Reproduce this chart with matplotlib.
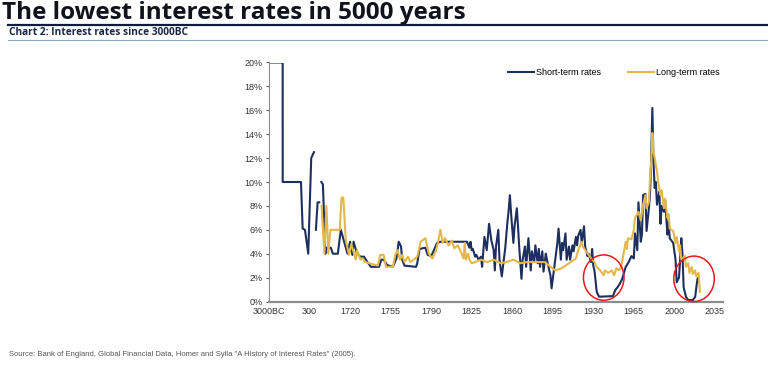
import numpy as np
import matplotlib
matplotlib.use("Agg")
import matplotlib.pyplot as plt
from matplotlib.patches import Ellipse

# Axis ticks (category-style axis: compressed before 1720)
tick_years = [-3000, 300, 1720, 1755, 1790, 1825, 1860, 1895, 1930, 1965, 2000, 2035]
tick_labels = ["3000BC", "300", "1720", "1755", "1790", "1825", "1860", "1895",
               "1930", "1965", "2000", "2035"]
y_ticks = [0, 2, 4, 6, 8, 10, 12, 14, 16, 18, 20]

# Short-term rates (%), NaN marks gaps in the record
short_years = [-3000, -1886, -1885, -398, -260, -73, 195, 359, 454, 490, 523, 583, 639, 680,
               715, 768, 855, 907, 1047, 1117, 1291, 1396, 1511, 1630,
               1720, 1722, 1723, 1726, 1729, 1732, 1735, 1738, 1745, 1747, 1749, 1752, 1757,
               1760, 1762, 1764, 1765, 1767, 1777, 1778, 1780, 1785, 1787, 1790, 1792, 1795,
               1798, 1820, 1821, 1823, 1824, 1825, 1826, 1828, 1829, 1831, 1833, 1834, 1836,
               1838, 1840, 1842, 1844, 1845, 1846, 1848, 1849, 1851, 1852, 1854, 1856, 1857,
               1858, 1859, 1861, 1862, 1864, 1865, 1866, 1868, 1869, 1871, 1872, 1874, 1876,
               1877, 1879, 1880, 1882, 1883, 1884, 1886, 1887, 1889, 1890, 1892, 1893, 1894,
               1896, 1897, 1899, 1900, 1902, 1903, 1904, 1906, 1907, 1909, 1910, 1912, 1913,
               1915, 1916, 1917, 1919, 1920, 1922, 1923, 1925, 1926, 1928, 1929, 1930, 1931,
               1933, 1935, 1947, 1949, 1951, 1953, 1955, 1958, 1960, 1963, 1965, 1966, 1968,
               1969, 1971, 1972, 1973, 1975, 1976, 1978, 1979, 1980, 1981, 1982, 1983, 1984,
               1985, 1987, 1988, 1989, 1991, 1992, 1994, 1995, 1996, 1999, 2001, 2002, 2004,
               2005, 2006, 2007, 2008, 2010, 2012, 2016, 2018, 2019, 2020, 2021]
short_rates = [20, 20, 10, 10, 6.1, 6.0, 4.0, 12.0, 12.5, np.nan, 6.0, 8.3, 8.3, np.nan,
               10.0, 9.8, 4.0, 4.5, 4.5, 4.0, 4.0, 6.0, 5.0, 4.0,
               5.0, 3.9, 5.0, 4.0, 3.75, 3.75, 3.3, 2.9, 2.9, 3.5, 3.5, 3.05, 2.9,
               3.6, 5.0, 4.6, 3.5, 3.0, 2.9, 3.2, 4.4, 4.5, 3.9, 3.8, 4.2, 4.9,
               5.0, 5.0, 5.0, 4.5, 5.0, 4.3, 4.4, 3.75, 3.9, 3.5, 3.75, 2.9, 5.4,
               4.3, 6.5, 5.1, 4.3, 2.6, 4.6, 6.0, 3.5, 2.1, 2.9, 4.5, 6.8, 7.7,
               8.9, 7.4, 4.9, 6.3, 7.8, 6.3, 4.6, 1.9, 3.5, 4.6, 2.9, 5.3, 2.6,
               4.2, 3.3, 4.7, 3.2, 4.4, 2.9, 4.2, 2.5, 4.0, 3.5, 2.6, 2.2, 1.1,
               2.6, 3.3, 4.9, 6.1, 3.5, 4.9, 4.3, 5.7, 3.5, 4.6, 3.5, 4.7, 4.2,
               5.4, 4.7, 5.5, 6.0, 4.9, 6.3, 4.6, 3.8, 4.0, 3.3, 4.4, 3.0, 2.6,
               0.8, 0.4, 0.45, 0.96, 1.2, 1.5, 1.9, 2.9, 3.2, 3.8, 3.6, 5.7, 4.3,
               8.3, 5.0, 5.6, 8.9, 9.0, 5.9, 7.8, 9.0, 12.0, 16.2, 11.7, 9.5, 10.0,
               8.1, 9.2, 6.5, 8.0, 7.5, 8.5, 5.6, 6.7, 5.3, 4.9, 3.5, 1.6, 2.0,
               3.5, 5.3, 4.0, 1.2, 0.4, 0.12, 0.12, 0.4, 1.2, 1.9, 2.0]

# Long-term rates (%)
long_years = [722, 820, 890, 960, 1029, 1361, 1420, 1483, 1535, 1570, 1685,
              1721, 1725, 1726, 1729, 1731, 1733, 1744, 1746, 1749, 1751, 1757, 1759, 1761,
              1763, 1765, 1767, 1770, 1772, 1775, 1778, 1781, 1785, 1788, 1791, 1794, 1796,
              1798, 1800, 1802, 1805, 1808, 1810, 1813, 1815, 1818, 1819, 1820, 1822, 1823,
              1825, 1828, 1833, 1838, 1844, 1850, 1855, 1861, 1867, 1873, 1880, 1888, 1892,
              1897, 1903, 1909, 1915, 1917, 1920, 1921, 1923, 1926, 1929, 1931, 1933, 1936,
              1939, 1940, 1943, 1946, 1948, 1950, 1952, 1954, 1956, 1958, 1959, 1960, 1963,
              1965, 1966, 1969, 1971, 1973, 1975, 1976, 1978, 1979, 1980, 1981, 1982, 1983,
              1985, 1986, 1988, 1989, 1991, 1992, 1994, 1995, 1996, 1999, 2000, 2001, 2002,
              2004, 2005, 2006, 2009, 2010, 2012, 2013, 2015, 2016, 2018, 2019, 2021, 2022]
long_rates = [8.0, 4.0, 8.0, 4.0, 6.0, 6.0, 8.7, 8.7, 6.5, 5.1, 3.9,
              4.8, 3.5, 4.3, 3.5, 3.6, 3.3, 3.0, 3.9, 3.9, 2.9, 2.9, 3.9, 4.3,
              3.5, 3.9, 3.3, 3.75, 3.3, 3.5, 3.75, 5.0, 5.3, 4.0, 3.6, 4.2, 5.0,
              6.0, 4.9, 5.3, 4.7, 5.1, 4.45, 4.7, 4.3, 3.6, 4.9, 3.5, 4.0, 3.5,
              3.2, 3.3, 3.5, 3.3, 3.5, 3.2, 3.3, 3.5, 3.2, 3.3, 3.3, 3.3, 3.0,
              2.6, 2.8, 3.2, 3.6, 4.3, 5.0, 4.6, 4.3, 3.9, 3.5, 3.3, 2.9, 2.6,
              2.2, 2.6, 2.4, 2.6, 2.2, 2.8, 2.6, 2.9, 3.9, 5.0, 4.4, 5.3, 5.2,
              6.0, 7.0, 7.5, 6.8, 8.1, 8.9, 7.8, 8.3, 10.3, 11.7, 14.1, 12.5, 12.0,
              10.9, 10.0, 8.9, 9.3, 7.8, 8.6, 7.0, 7.3, 6.1, 5.9, 5.4, 4.9, 5.4,
              4.2, 4.7, 3.5, 3.8, 2.9, 3.2, 2.4, 2.9, 2.3, 2.6, 2.1, 2.4, 0.8]

# periods highlighted with red circles: (centre year, centre rate)
highlights = [(1939, 2.0), (2017, 1.9)]


def to_pos(years):
    return np.interp(years, tick_years[:3] + [2035], [0, 1, 2, 11])


navy = "#1c2f5e"
gold = "#e3b848"

plt.rcParams["font.family"] = ["Liberation Sans", "DejaVu Sans"]

fig = plt.figure(figsize=(7.68, 3.79), dpi=100)
ax = fig.add_axes([269 / 768, 77.5 / 379, 454 / 768, 239 / 379])

ax.plot(to_pos(short_years), short_rates, color=navy, lw=1.5, label="Short-term rates")
ax.plot(to_pos(long_years), long_rates, color=gold, lw=1.5, label="Long-term rates")

for yr, rt in highlights:
    ax.add_patch(Ellipse((to_pos(yr), rt), 1.0, 3.8, fill=False, edgecolor="#e8191e",
                         lw=1.1, clip_on=False, zorder=5))

ax.set_xlim(0, 11.2)
ax.set_ylim(0, 20)
ax.set_xticks(range(len(tick_labels)))
ax.set_xticklabels(tick_labels)
ax.set_yticks(y_ticks)
ax.set_yticklabels([f"{v}%" for v in y_ticks])
ax.tick_params(axis="both", labelsize=6.5, colors="#333333", length=2.5, width=0.6,
               pad=2)
ax.tick_params(axis="x", length=0, pad=4)
for s in ["top", "right"]:
    ax.spines[s].set_visible(False)
ax.spines["left"].set_color("#8c8c8c")
ax.spines["left"].set_linewidth(0.8)
ax.spines["bottom"].set_color("#8c8c8c")
ax.spines["bottom"].set_linewidth(1.6)

ax.legend(loc="upper right", bbox_to_anchor=(728 / 768, 1 - 60 / 379),
          bbox_transform=fig.transFigure, ncol=2, frameon=False, fontsize=6.5,
          handlelength=2.9, handletextpad=0.2, columnspacing=3.05)

# header
fig.text(2 / 768, 1 - 19 / 379, "The lowest interest rates in 5000 years",
         fontsize=17.5, fontweight="bold", family="Open Sans", color="#10131c",
         va="baseline", ha="left")
fig.add_artist(plt.Line2D([8 / 768, 1], [1 - 25 / 379] * 2, color="#0e1d3a", lw=1.6))
fig.text(9 / 768, 1 - 32.5 / 379, "Chart 2: Interest rates since 3000BC",
         fontsize=7.3, fontweight="bold", family="Open Sans", color="#1a2747",
         va="center", ha="left")
fig.add_artist(plt.Line2D([8 / 768, 1], [1 - 40 / 379] * 2, color="#8ea6c6", lw=0.8))

fig.text(9 / 768, 1 - 354 / 379,
         'Source: Bank of England, Global Financial Data, Homer and Sylla "A History of Interest Rates" (2005).',
         fontsize=5.5, color="#555555", va="center", ha="left")

fig.savefig("out.png", dpi=100)
